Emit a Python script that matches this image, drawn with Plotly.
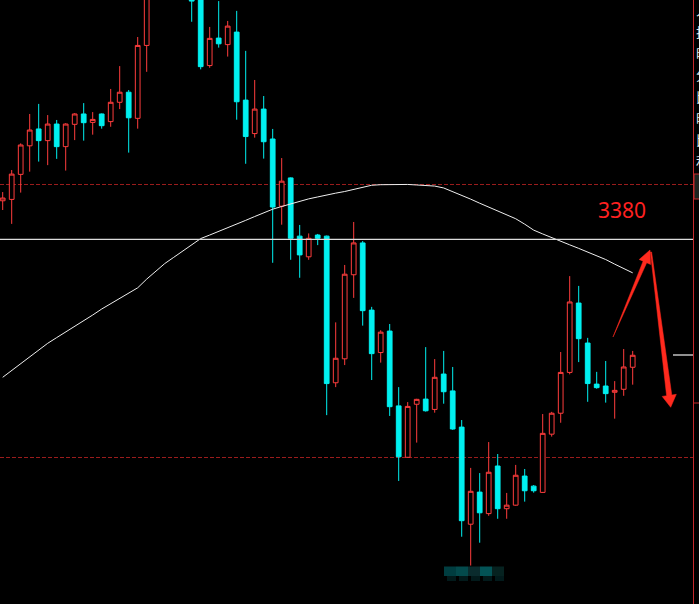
import plotly.graph_objects as go

# ---- data ----
opens = [3394.2, 3394.7, 3403.9, 3414.4, 3420.6, 3416.3, 3422.4, 3414.1, 3422.3, 3426.1,
         3423.0, 3426.1, 3423.3, 3430.4, 3434.1, 3424.5, 3451.3, 3478.0, 3490.0, 3484.0,
         3494.0, 3487.0, 3476.0, 3443.9, 3454.0, 3451.6, 3456.2, 3431.2, 3418.9, 3427.9,
         3416.9, 3392.2, 3402.6, 3381.2, 3373.6, 3381.6, 3381.2, 3327.3, 3336.1, 3367.0,
         3378.7, 3354.0, 3338.4, 3346.3, 3318.8, 3299.9, 3319.4, 3321.3, 3317.5, 3330.5,
         3324.3, 3311.0, 3275.3, 3287.1, 3279.2, 3296.7, 3281.0, 3282.3, 3293.0, 3289.3,
         3287.0, 3308.4, 3316.1, 3331.1, 3356.6, 3341.9, 3326.8, 3326.1, 3323.8, 3324.9,
         3333.0]
highs = [3397.4, 3405.5, 3415.3, 3426.1, 3429.8, 3425.7, 3423.9, 3422.7, 3426.4, 3430.1,
         3426.8, 3426.3, 3435.3, 3443.7, 3434.9, 3454.4, 3482.0, 3496.0, 3499.0, 3498.0,
         3501.0, 3492.0, 3480.0, 3458.1, 3467.6, 3460.3, 3464.0, 3449.3, 3438.6, 3432.7,
         3420.6, 3409.9, 3402.8, 3385.3, 3382.2, 3382.0, 3381.4, 3349.5, 3370.6, 3386.4,
         3379.4, 3355.2, 3346.6, 3348.9, 3325.7, 3320.2, 3321.4, 3340.4, 3336.0, 3339.0,
         3333.1, 3313.6, 3296.0, 3294.1, 3305.5, 3301.1, 3286.8, 3297.1, 3295.6, 3289.7,
         3315.8, 3316.6, 3338.6, 3366.5, 3362.9, 3343.8, 3331.3, 3335.3, 3327.9, 3339.7,
         3339.0]
lows = [3390.8, 3385.7, 3397.2, 3404.9, 3408.6, 3407.3, 3409.6, 3405.3, 3416.5, 3416.3,
        3418.5, 3420.7, 3421.4, 3427.9, 3411.9, 3420.7, 3441.6, 3472.0, 3480.0, 3477.0,
        3483.0, 3460.0, 3442.5, 3443.1, 3450.5, 3447.2, 3424.0, 3407.8, 3417.4, 3409.7,
        3371.4, 3385.4, 3372.5, 3365.9, 3372.5, 3377.9, 3315.4, 3325.7, 3333.8, 3358.5,
        3348.3, 3328.3, 3334.7, 3315.1, 3291.2, 3299.7, 3305.3, 3316.7, 3316.3, 3319.6,
        3310.0, 3270.7, 3260.1, 3268.5, 3278.4, 3277.3, 3277.3, 3282.1, 3283.6, 3286.9,
        3286.8, 3307.5, 3312.6, 3330.4, 3334.9, 3320.3, 3325.1, 3320.0, 3314.1, 3322.5,
        3326.6]
closes = [3395.2, 3404.0, 3414.7, 3420.2, 3416.3, 3422.4, 3414.1, 3422.4, 3426.1, 3422.9,
          3424.1, 3421.8, 3430.4, 3434.1, 3424.7, 3451.3, 3478.0, 3490.0, 3484.0, 3494.0,
          3487.0, 3467.6, 3443.5, 3453.9, 3451.9, 3458.4, 3430.6, 3417.8, 3427.9, 3415.9,
          3391.9, 3401.4, 3380.4, 3374.3, 3380.4, 3380.4, 3327.0, 3336.3, 3367.2, 3378.7,
          3353.8, 3338.0, 3345.9, 3318.5, 3300.1, 3318.6, 3321.2, 3317.0, 3329.3, 3324.0,
          3310.3, 3276.6, 3287.4, 3279.5, 3294.4, 3281.0, 3282.3, 3293.3, 3287.6, 3287.6,
          3308.7, 3316.1, 3331.1, 3357.0, 3343.5, 3327.0, 3325.5, 3323.3, 3324.5, 3333.1,
          3337.4]
ma_line = [3329.3, 3331.8, 3334.3, 3336.8, 3339.3, 3341.8, 3343.9, 3345.9, 3347.9, 3350.1,
           3352.2, 3354.4, 3356.4, 3358.3, 3360.2, 3362.2, 3365.4, 3368.3, 3371.1, 3373.4,
           3375.7, 3378.0, 3380.3, 3381.6, 3382.9, 3384.2, 3385.6, 3387.0, 3388.4, 3389.8,
           3391.1, 3392.1, 3393.1, 3394.1, 3394.9, 3395.6, 3396.4, 3397.0, 3397.6, 3398.3,
           3399.2, 3399.9, 3400.1, 3400.2, 3400.3, 3400.2, 3400.0, 3399.8, 3399.6, 3398.9,
           3397.6, 3396.3, 3394.8, 3393.3, 3391.9, 3390.5, 3389.1, 3387.6, 3385.6, 3383.4,
           3382.0, 3380.6, 3379.3, 3378.0, 3376.7, 3375.4, 3374.1, 3372.6, 3370.9, 3369.3,
           3367.7]
bars = list(range(len(opens)))
grid_levels = [3300, 3400]
key_level = 3380
key_label = "3380"
side_chars = ["入", "挂", "时", "分", "比", "时", "比", "利"]

W, H = 699, 604
RED = "#ff3d3d"
CYAN = "#00f0f0"


def px(x):
    return x / W


def py(y):
    return 1 - y / H


def path(points):
    s = "M " + " L ".join(f"{px(a):.5f},{py(b):.5f}" for a, b in points) + " Z"
    return s


fig = go.Figure()
fig.add_trace(go.Candlestick(
    x=bars, open=opens, high=highs, low=lows, close=closes,
    increasing=dict(line=dict(color=RED, width=1), fillcolor="#000000"),
    decreasing=dict(line=dict(color=CYAN, width=1), fillcolor=CYAN),
    whiskerwidth=0, hoverinfo="skip", showlegend=False,
))
fig.add_trace(go.Scatter(
    x=bars, y=ma_line, mode="lines", line=dict(color="#eeeeee", width=1),
    hoverinfo="skip", showlegend=False,
))

shapes = []
# key horizontal level
shapes.append(dict(type="line", xref="paper", yref="y", x0=0, x1=px(693), y0=key_level, y1=key_level,
                   line=dict(color="#dcdcdc", width=1.2), layer="above"))
# right panel border
shapes.append(dict(type="line", xref="paper", yref="paper", x0=px(693.5), x1=px(693.5), y0=0, y1=1,
                   line=dict(color="#c4282b", width=1)))
shapes.append(dict(type="rect", xref="paper", yref="paper", x0=px(694), x1=px(700), y0=py(199), y1=py(174),
                   line=dict(color="#c4282b", width=1), fillcolor="#1e2420"))
shapes.append(dict(type="line", xref="paper", yref="paper", x0=px(673), x1=px(693), y0=py(355), y1=py(355),
                   line=dict(color="#f0f0f0", width=1.2)))
shapes.append(dict(type="line", xref="paper", yref="paper", x0=px(693), x1=px(699), y0=py(403), y1=py(403),
                   line=dict(color="#c4282b", width=1)))
# hand-drawn arrows
shapes.append(dict(type="path", xref="paper", yref="paper",
                   path=path([(613, 337), (646.7, 262.8), (650.6, 264.5), (650, 250), (639.2, 259.5), (643.1, 261.2)]),
                   fillcolor="#ff2a1e", line=dict(color="#ff2a1e", width=0.5)))
shapes.append(dict(type="path", xref="paper", yref="paper",
                   path=path([(650.4, 252), (651.6, 252), (671.8, 395.1), (676.3, 394.3), (670.7, 407.3),
                              (662.2, 396.4), (666.6, 395.7)]),
                   fillcolor="#ff2a1e", line=dict(color="#ff2a1e", width=0.5)))
# blurred price label at the low
blur = [(444, 456, "#003d40"), (456, 468, "#034a4c"), (468, 480, "#0a2b2d"), (480, 492, "#035356"), (492, 504, "#062220")]
for a, b, c in blur:
    shapes.append(dict(type="rect", xref="paper", yref="paper", x0=px(a), x1=px(b), y0=py(576), y1=py(566.5),
                       line=dict(width=0), fillcolor=c))
    shapes.append(dict(type="rect", xref="paper", yref="paper", x0=px(a + 3), x1=px(b), y0=py(581), y1=py(576),
                       line=dict(width=0), fillcolor="#021a1b"))

annotations = [dict(text=key_label, xref="paper", yref="paper", x=px(596), y=py(210), xanchor="left",
                    yanchor="middle", showarrow=False,
                    font=dict(family="Noto Sans", size=21, color="#ff2020"))]
for k, ch in enumerate(side_chars):
    annotations.append(dict(text=ch, xref="paper", yref="paper", x=px(694), y=py(10 + k * 21.5),
                            xanchor="left", yanchor="middle", showarrow=False,
                            font=dict(family="Noto Sans CJK SC", size=13, color="#e8e8e8")))

fig.update_layout(
    width=W, height=H, margin=dict(l=0, r=0, t=0, b=0),
    paper_bgcolor="#000000", plot_bgcolor="#000000",
    showlegend=False, boxgap=0.25,
    xaxis=dict(domain=[0, px(693)], range=[-0.3, 76.7], showgrid=False, zeroline=False,
               showticklabels=False, ticks="", showline=False, rangeslider=dict(visible=False),
               fixedrange=True),
    yaxis=dict(range=[3245.97, 3468.0], tickvals=grid_levels, showgrid=True, gridcolor="#9a1c1c",
               griddash="3.5px,2.5px", gridwidth=1, zeroline=False, showticklabels=False, ticks="",
               showline=False, fixedrange=True),
    shapes=shapes, annotations=annotations,
)

fig.write_html(
    "out.html",
    config={"displayModeBar": False},
    post_script="document.body.style.margin='0';document.body.style.padding='0';"
                "document.body.style.background='#000';document.body.style.overflow='hidden';",
)
